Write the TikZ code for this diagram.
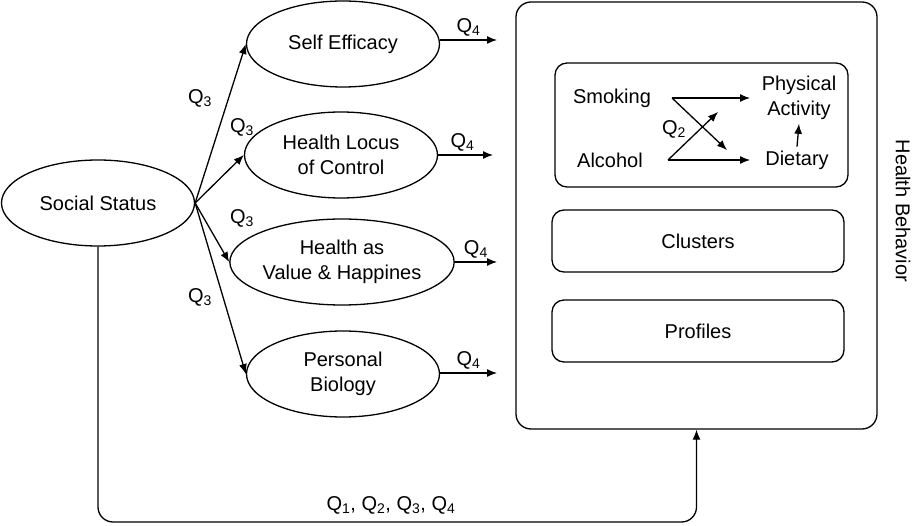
\documentclass[tikz,border=0pt]{standalone}
\usepackage{fontspec}
\setmainfont{Liberation Sans}
\usepackage{tikz}
\usetikzlibrary{shapes.geometric,arrows.meta}

\begin{document}
\begin{tikzpicture}[x=1pt, y=-1pt, line width=1.3pt,
  font=\fontsize{20}{25}\selectfont,
  ellip/.style={draw, ellipse, minimum width=193pt, minimum height=86pt, inner sep=0pt, align=center},
  rbox/.style={draw, rounded corners=12pt, inner sep=0pt},
  arr/.style={-{Latex[length=10pt,width=8pt]}}]
\useasboundingbox (0,0) rectangle (918,526);
% left side
\node[ellip] (ss) at (98,203) {Social Status};
\node[ellip] (se) at (343,44) {Self Efficacy};
\node[ellip] (hl) at (341,155) {Health Locus\\of Control};
\node[ellip] (hv) at (342,262) {Health as\\Value \& Happines};
\node[ellip] (pb) at (343,374) {Personal\\Biology};
\draw[arr] (ss.east) -- (se.west);
\draw[arr] (ss.east) -- (hl.west);
\draw[arr] (ss.east) -- (hv.west);
\draw[arr] (ss.east) -- (pb.west);
\node (q3a) at (200,98) {Q\textsubscript{3}};
\node (q3b) at (242,127) {Q\textsubscript{3}};
\node (q3c) at (242,218) {Q\textsubscript{3}};
\node (q3d) at (200,297) {Q\textsubscript{3}};
% Q4 arrows
\coordinate (se4) at (497,40);
\coordinate (hl4) at (493,155);
\coordinate (hv4) at (497,262);
\coordinate (pb4) at (497,373);
\draw[arr] (se.east |- se4) -- node[above] {Q\textsubscript{4}} (se4);
\draw[arr] (hl.east |- hl4) -- node[above, xshift=-3pt] {Q\textsubscript{4}} (hl4);
\draw[arr] (hv.east |- hv4) -- node[above] {Q\textsubscript{4}} (hv4);
\draw[arr] (pb.east |- pb4) -- node[above] {Q\textsubscript{4}} (pb4);
% health behavior
\node[rbox, rounded corners=15pt, minimum width=361pt, minimum height=427pt] (hb) at (696.5,215.5) {};
\node[rotate=-90] (hbl) at (903,211) {Health Behavior};
\node[rbox, minimum width=293pt, minimum height=124pt] (beh) at (701.5,125) {};
\node[rbox, minimum width=292pt, minimum height=62pt] (cl) at (698,241) {Clusters};
\node[rbox, minimum width=292pt, minimum height=62pt] (pr) at (698,331) {Profiles};
\node (smk) at (612,98) {Smoking};
\node (alc) at (610,160) {Alcohol};
\node[align=center] (pa) at (799,98) {Physical\\Activity};
\node (dt) at (797,160) {Dietary};
\node (q2) at (674,129) {Q\textsubscript{2}};
\coordinate (smko) at (672,98);
\coordinate (alco) at (668,160);
\draw[arr] (smko) -- (750,98);
\draw[arr] (smko) -- (727,150);
\draw[arr] (alco) -- (750,160);
\draw[arr] (alco) -- (718,112);
\draw[arr] (dt.north) -- (pa.south);
% bottom link
\coordinate (bend) at (98,522);
\draw[arr, rounded corners=15pt] (ss.south) -- (bend) -| (hb.south);
\node (qall) at (391,505) {Q\textsubscript{1}, Q\textsubscript{2}, Q\textsubscript{3}, Q\textsubscript{4}};
\end{tikzpicture}
\end{document}
